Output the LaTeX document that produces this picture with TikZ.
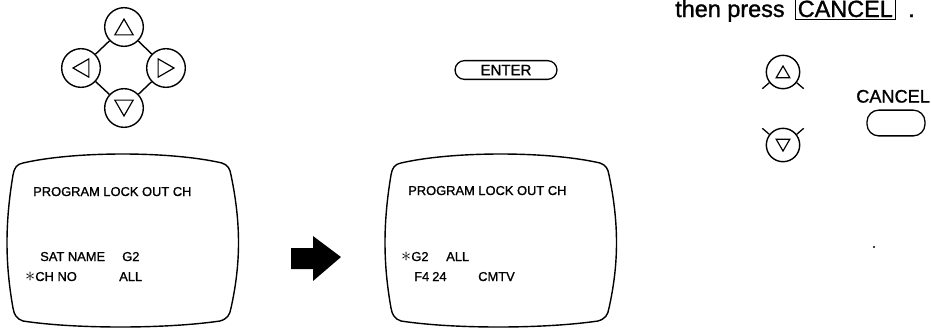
\documentclass[tikz,border=0pt]{standalone}
\usepackage{fontspec}
\setmainfont{Liberation Sans}
\newfontfamily\scanfont[FakeBold=1.2]{Liberation Sans}
\usetikzlibrary{positioning,shapes.geometric}
\newcommand{\selmark}{{\fontsize{17}{17}\selectfont$\ast$}}
\newcommand{\tvscreen}[1]{%
  \draw[screen,shift={#1}] (8,0) .. controls (60,-12) and (155,-12) .. (207,0)
    .. controls (213,2) and (215,6) .. (216,12)
    .. controls (226,60) and (226,100) .. (216,145)
    .. controls (215,152) and (212,156) .. (205,158)
    .. controls (150,166) and (60,166) .. (8,158)
    .. controls (2,156) and (-1,152) .. (-2,145)
    .. controls (-10,100) and (-10,60) .. (-2,12)
    .. controls (-1,5) and (2,1) .. (8,0) -- cycle;}
\tikzset{
  key/.style={circle,draw,line width=1.2pt,minimum size=33pt,inner sep=0pt},
  keysm/.style={circle,draw,line width=1.2pt,minimum size=28.5pt,inner sep=0pt},
  tri/.style={regular polygon,regular polygon sides=3,draw,line width=1pt,
    inner sep=0pt,minimum size=18pt},
  trism/.style={tri,minimum size=13.5pt},
  btn/.style={rectangle,rounded corners=8pt,draw,line width=1.1pt,
    font=\scanfont\fontsize{12.8}{14}\selectfont},
  screen/.style={line width=1.2pt},
  txt/.style={anchor=base west,inner sep=0pt,font=\scanfont\fontsize{11}{12}\selectfont},
  ear/.style={line width=1.1pt}
}
\begin{document}
\begin{tikzpicture}[x=0.03cm,y=-0.03cm,
  big/.style={anchor=base west,inner sep=0pt,font=\scanfont\fontsize{20}{24}\selectfont}]
\useasboundingbox (0,0) rectangle (931,327);
% cursor keys
\node[key] (up) at (124,27) {};
\node[key] (lf) at (81,68) {};
\node[key] (rt) at (166,68) {};
\node[key] (dn) at (124,108) {};
\draw[line width=1.2pt] (up) -- (lf) (up) -- (rt) (lf) -- (dn) (rt) -- (dn);
\node[tri,yshift=-2.2pt] (uptri) at (up) {};
\node[tri,regular polygon rotate=180,yshift=2.2pt] (dntri) at (dn) {};
\node[tri,regular polygon rotate=90,xshift=2.2pt] (lftri) at (lf) {};
\node[tri,regular polygon rotate=-90,xshift=-2.2pt] (rttri) at (rt) {};
% screens
\tvscreen{(15,163)}
\tvscreen{(393,163)}
\node[txt] (title1) at (33,196) {PROGRAM LOCK OUT CH};
\node[txt] (sat) at (40,261) {SAT NAME};
\node[txt] (satval) at (122,261) {G2};
\node[txt] (chno) at (25,281) {\selmark CH NO};
\node[txt] (chval) at (119,281) {ALL};
\node[txt] (title2) at (408,195) {PROGRAM LOCK OUT CH};
\node[txt] (g2) at (401,261) {\selmark G2};
\node[txt] (all) at (446,261) {ALL};
\node[txt] (f4) at (414,281) {F4};
\node[txt] (num) at (432,281) {24};
\node[txt] (cmtv) at (478,281) {CMTV};
% arrow
\fill (291,248) -- (313,248) -- (313,236) -- (341,257) -- (313,281)
  -- (313,269) -- (291,269) -- cycle;
\node[btn,minimum width=87pt,minimum height=16pt] (enter) at (506,70) {ENTER};
% right column
\node[big] (then) at (675,17) {then press};
\node[big,draw,line width=0.7pt,inner sep=2pt] (cancelkey) at (795,17) {CANCEL};
\node[big] (stop) at (908,17) {.};
\node[keysm] (bup) at (783,72) {};
\node[trism,yshift=-1.6pt] (buptri) at (bup) {};
\draw[ear] (bup.218) -- ++(-7,6) (bup.322) -- ++(7,6);
\node[keysm] (bdn) at (783,145) {};
\node[trism,regular polygon rotate=180,yshift=1.6pt] (bdntri) at (bdn) {};
\draw[ear] (bdn.142) -- ++(-7,-6) (bdn.38) -- ++(7,-6);
\node[btn,minimum width=49.5pt,minimum height=22pt,rounded corners=10pt] (cancel) at (896,123) {};
\node[font=\scanfont\fontsize{15.5}{17}\selectfont,anchor=south west,inner sep=0pt]
  (cancellbl) at (856,103) {CANCEL};
\node[circle,fill,inner sep=0pt,minimum size=2pt] (speck) at (874,247) {};
\end{tikzpicture}
\end{document}
